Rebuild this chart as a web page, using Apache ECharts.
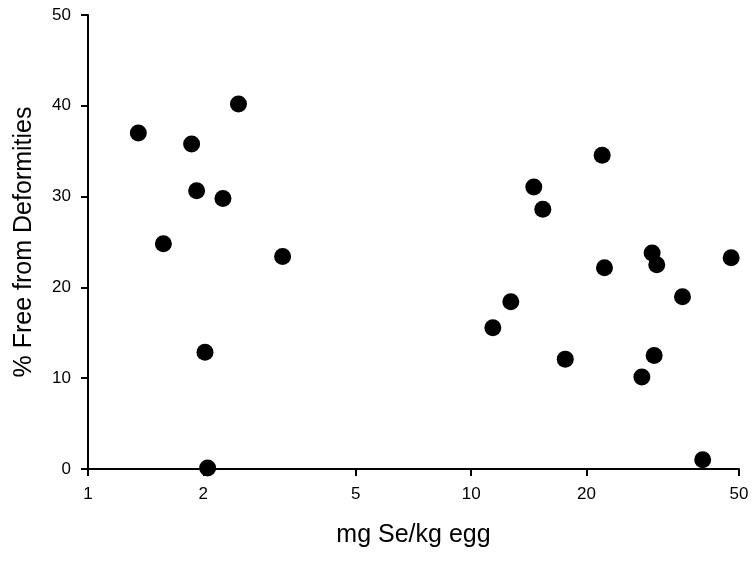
<!DOCTYPE html>
<html>
<head>
<meta charset="utf-8">
<script src="https://cdn.jsdelivr.net/npm/echarts@6/dist/echarts.min.js"></script>
<style>
html,body{margin:0;padding:0;background:#fff;}
#chart{width:753px;height:561px;}
</style>
</head>
<body>
<div id="chart"></div>
<script>
// mg Se/kg egg (x) and % free from deformities (y)
var seleniumX = [2.47, 1.353, 1.864, 1.921, 2.25, 1.573, 3.22, 2.02, 2.052,
                 21.97, 14.57, 15.38, 29.67, 30.5, 22.28, 47.7, 35.6, 12.69, 11.39,
                 17.6, 30.03, 27.89, 40.2];
var freePct   = [40.2, 37.0, 35.8, 30.65, 29.8, 24.8, 23.4, 12.85, 0.1,
                 34.55, 31.06, 28.6, 23.8, 22.5, 22.17, 23.27, 18.98, 18.43, 15.56,
                 12.1, 12.5, 10.13, 1.02];
var xTicks = [1, 2, 5, 10, 20, 50];
var yTicks = [0, 10, 20, 30, 40, 50];

var points = seleniumX.map(function (x, i) { return [x, freePct[i]]; });

var chart = echarts.init(document.getElementById('chart'), null, {renderer: 'canvas'});
var font = 'Liberation Sans, Arial, sans-serif';
chart.setOption({
  animation: false,
  backgroundColor: '#ffffff',
  grid: {left: 88, right: 14, top: 15, bottom: 92, containLabel: false},
  xAxis: {
    type: 'log',
    logBase: 10,
    min: 1,
    max: 50,
    name: 'mg Se/kg egg',
    nameLocation: 'middle',
    nameGap: 54,
    nameTextStyle: {fontFamily: font, fontSize: 25, color: '#000'},
    axisLine: {onZero: false, lineStyle: {color: '#000', width: 2}},
    axisTick: {show: true, inside: false, length: 7, lineStyle: {color: '#000', width: 2}, customValues: xTicks},
    axisLabel: {fontFamily: font, fontSize: 17, color: '#000', margin: 17, customValues: xTicks,
      formatter: function (v) { return String(Math.round(v * 1000) / 1000); }},
    splitLine: {show: false},
    minorTick: {show: false}
  },
  yAxis: {
    type: 'value',
    min: 0,
    max: 50,
    interval: 10,
    name: '% Free from Deformities',
    nameLocation: 'middle',
    nameGap: 51,
    nameTextStyle: {fontFamily: font, fontSize: 25, color: '#000'},
    axisLine: {show: true, lineStyle: {color: '#000', width: 2}},
    axisTick: {show: true, inside: false, length: 7, lineStyle: {color: '#000', width: 2}},
    axisLabel: {fontFamily: font, fontSize: 17, color: '#000', margin: 17,
      formatter: function (v) { return yTicks.indexOf(v) >= 0 ? String(v) : ''; }},
    splitLine: {show: false}
  },
  series: [{
    type: 'scatter',
    data: points,
    symbol: 'circle',
    symbolSize: 17,
    itemStyle: {color: '#000', opacity: 1},
    clip: false
  }]
});
</script>
</body>
</html>
